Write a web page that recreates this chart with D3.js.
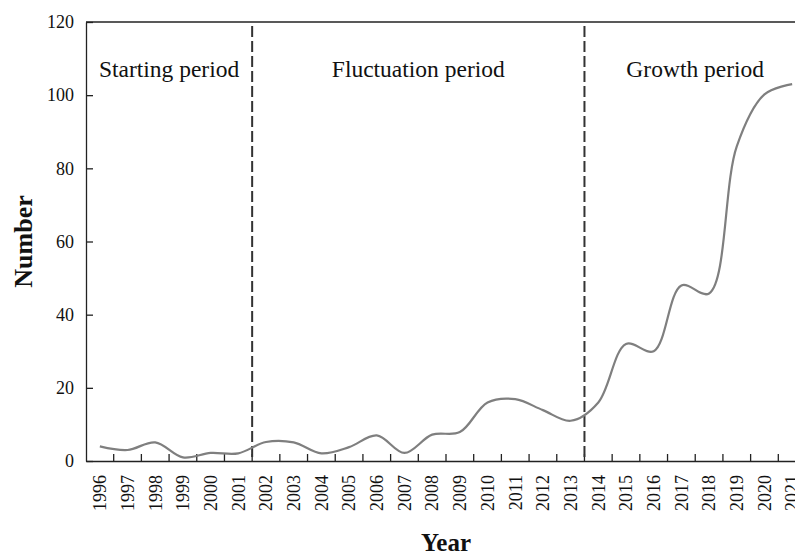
<!DOCTYPE html>
<html>
<head>
<meta charset="utf-8">
<script src="https://cdn.jsdelivr.net/npm/d3@7"></script>
<style>
  body { margin: 0; background: #fff; }
  svg { display: block; font-family: "Liberation Serif", "Times New Roman", serif; }
</style>
</head>
<body>
<div id="chart"></div>
<script>
const years = ['1996','1997','1998','1999','2000','2001','2002','2003','2004','2005','2006','2007','2008',
    '2009','2010','2011','2012','2013','2014','2015','2016','2017','2018','2019','2020','2021'];
const counts = [4.0, 3.0, 5.1, 1.0, 2.2, 2.1, 5.2, 5.1, 2.1, 3.8, 7.0, 2.2, 7.2,
    7.9, 16.0, 16.9, 13.9, 11.0, 16.0, 32.0, 30.0, 48.0, 45.8, 86.0, 100.2, 103.0];
const yTicks = [0, 20, 40, 60, 80, 100, 120];
// period boundaries (first year of each new period) and labels
const splitYears = ['2002', '2014'];
const periods = [
    {label: 'Starting period', from: '1996', to: '2001'},
    {label: 'Fluctuation period', from: '2002', to: '2013'},
    {label: 'Growth period', from: '2014', to: '2021'}
];

const margin = {top: 22, right: -11, bottom: 93, left: 86};
const width = 795, height = 554;
const chartDiv = document.getElementById('chart');

const svg = d3.select(chartDiv).append('svg')
    .attr('width', width)
    .attr('height', height);

const x = d3.scaleBand()
    .domain(years)
    .range([margin.left, width - margin.right])
    .paddingInner(0).paddingOuter(0);
const y = d3.scaleLinear()
    .domain([0, 120])
    .range([height - margin.bottom, margin.top]);

const cx = d => x(d) + x.bandwidth() / 2;

// top frame line
svg.append('line')
    .attr('x1', x.range()[0]).attr('x2', x.range()[1])
    .attr('y1', y(120)).attr('y2', y(120))
    .attr('stroke', '#222').attr('stroke-width', 1.3);

// x axis
const xAxis = svg.append('g')
    .attr('class', 'x axis')
    .attr('transform', `translate(0,${y(0)})`)
    .call(d3.axisBottom(x).tickSize(0).tickSizeOuter(0));
xAxis.select('.domain').attr('stroke', '#222').attr('stroke-width', 1.3);
xAxis.selectAll('text')
    .attr('transform', 'rotate(-90)')
    .attr('x', -14)
    .attr('y', 0)
    .attr('dy', '0.35em')
    .style('text-anchor', 'end')
    .style('font-size', '18px')
    .style('font-family', '"Liberation Serif", serif')
    .attr('fill', '#111');
// tick marks at band boundaries, pointing inward
xAxis.selectAll('line.boundary')
    .data(years.slice(1))
    .join('line')
    .attr('class', 'boundary')
    .attr('x1', d => x(d)).attr('x2', d => x(d))
    .attr('y1', 0).attr('y2', -7)
    .attr('stroke', '#222').attr('stroke-width', 1.3);

// y axis
const yAxis = svg.append('g')
    .attr('class', 'y axis')
    .attr('transform', `translate(${margin.left},0)`)
    .call(d3.axisLeft(y).tickValues(yTicks).tickSize(-7).tickSizeOuter(0).tickPadding(12));
yAxis.select('.domain').attr('stroke', '#222').attr('stroke-width', 1.3);
yAxis.selectAll('.tick line').attr('stroke', '#222').attr('stroke-width', 1.3);
yAxis.selectAll('text')
    .style('font-size', '18px')
    .style('font-family', '"Liberation Serif", serif')
    .attr('fill', '#111');

// dashed period separators
svg.selectAll('line.split')
    .data(splitYears)
    .join('line')
    .attr('class', 'split')
    .attr('x1', d => x(d)).attr('x2', d => x(d))
    .attr('y1', margin.top + 4).attr('y2', y(0))
    .attr('stroke', '#333')
    .attr('stroke-width', 2)
    .attr('stroke-dasharray', '11,4');

// period labels
svg.selectAll('text.period')
    .data(periods)
    .join('text')
    .attr('class', 'period')
    .attr('x', d => (x(d.from) + x(d.to) + x.bandwidth()) / 2)
    .attr('y', 77)
    .attr('text-anchor', 'middle')
    .style('font-size', '23.5px')
    .attr('fill', '#111')
    .text(d => d.label);

// the smoothed line
const line = d3.line()
    .x((d, i) => cx(years[i]))
    .y(d => y(d))
    .curve(d3.curveCatmullRom.alpha(0.5));
svg.append('path')
    .datum(counts)
    .attr('fill', 'none')
    .attr('stroke', '#7f7f7f')
    .attr('stroke-width', 2.2)
    .attr('d', line);

// axis titles
svg.append('text')
    .attr('x', (x.range()[0] + x.range()[1]) / 2)
    .attr('y', 551)
    .attr('text-anchor', 'middle')
    .style('font-size', '25px')
    .style('font-weight', 'bold')
    .attr('fill', '#111')
    .text('Year');
svg.append('text')
    .attr('transform', `translate(32,${(y(0) + y(120)) / 2}) rotate(-90)`)
    .attr('text-anchor', 'middle')
    .style('font-size', '26px')
    .style('font-weight', 'bold')
    .attr('fill', '#111')
    .text('Number');
</script>
</body>
</html>
